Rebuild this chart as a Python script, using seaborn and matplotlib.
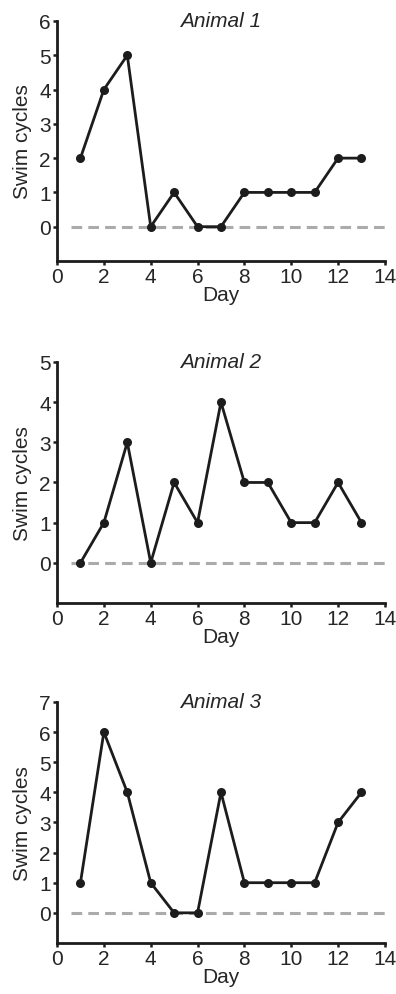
import numpy as np
import pandas as pd
import matplotlib
matplotlib.use("Agg")
import matplotlib.pyplot as plt
import seaborn as sns

# --- data ---
days = list(range(1, 14))
animal_1 = [2, 4, 5, 0, 1, 0, 0, 1, 1, 1, 1, 2, 2]
animal_2 = [0, 1, 3, 0, 2, 1, 4, 2, 2, 1, 1, 2, 1]
animal_3 = [1, 6, 4, 1, 0, 0, 4, 1, 1, 1, 1, 3, 4]
titles = ["Animal 1", "Animal 2", "Animal 3"]
y_max = [6, 5, 7]
x_ticks = [0, 2, 4, 6, 8, 10, 12, 14]

sns.set_style("ticks")
plt.rcParams['font.family'] = ['Liberation Sans', 'DejaVu Sans']

fig = plt.figure(figsize=(3.96, 9.95), dpi=100)
# axes boxes (left, bottom, width, height) in figure fractions
boxes = [
    (0.144, 0.7367, 0.828, 0.2412),
    (0.144, 0.3930, 0.828, 0.2422),
    (0.144, 0.0513, 0.828, 0.2422),
]
fs = 15

for series, title, ymax, box in zip([animal_1, animal_2, animal_3], titles, y_max, boxes):
    ax = fig.add_axes(box)
    df = pd.DataFrame({"Day": days, "Swim cycles": series})
    # dashed zero reference line
    ax.plot([0.6, 14], [0, 0], color="#ababab", lw=2.2, ls=(0, (3.5, 2)),
            zorder=1, clip_on=False)
    sns.lineplot(data=df, x="Day", y="Swim cycles", ax=ax, color="#1c1c1c",
                 lw=2.0, marker="o", markersize=6.5, markeredgewidth=0, zorder=3)
    ax.set_xlim(0, 14)
    ax.set_ylim(-1, ymax)
    ax.set_xticks(x_ticks)
    ax.set_yticks(range(0, ymax + 1))
    ax.text(0.5, 1.0, title, transform=ax.transAxes, ha="center", va="center",
            fontsize=fs, style="italic")
    ax.set_xlabel("Day", fontsize=fs, labelpad=-1)
    ax.set_ylabel("Swim cycles", fontsize=fs, labelpad=5)
    ax.tick_params(labelsize=fs, width=1.8, length=3, pad=1.5, color="#1c1c1c")
    sns.despine(ax=ax)
    for s in ["left", "bottom"]:
        ax.spines[s].set_linewidth(2.0)
        ax.spines[s].set_color("#1c1c1c")

fig.savefig("out.png", dpi=100)
